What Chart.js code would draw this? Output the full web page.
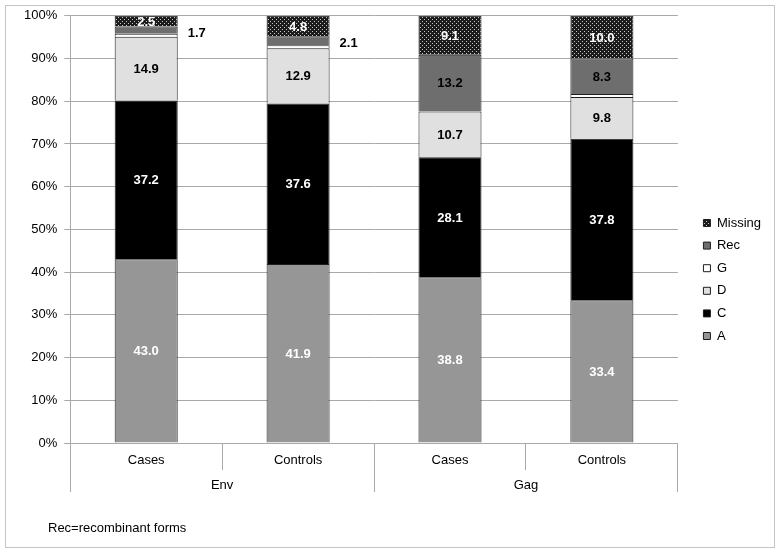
<!DOCTYPE html>
<html>
<head>
<meta charset="utf-8">
<script src="https://cdn.jsdelivr.net/npm/chart.js@4"></script>
<style>
  body { margin: 0; background: #fff; }
  #frame { position: absolute; left: 5px; top: 5px; width: 768px; height: 541px; border: 1px solid #c4c4c4; }
  #wrap { position: absolute; left: 6px; top: 1px; width: 768px; height: 547px; }
  #note { position: absolute; left: 48px; top: 520px; font: 13px "Liberation Sans", Arial, sans-serif; color: #000; }
</style>
</head>
<body>
<div id="frame"></div>
<div id="wrap"><canvas id="chart"></canvas></div>
<div id="note">Rec=recombinant forms</div>
<script>
// values (% of sequences per subtype)
const groups = ['Env', 'Gag'];
const categories = ['Cases', 'Controls', 'Cases', 'Controls'];
const subtypeA = [43.0, 41.9, 38.8, 33.4];
const subtypeC = [37.2, 37.6, 28.1, 37.8];
const subtypeD = [14.9, 12.9, 10.7, 9.8];
const subtypeG = [0.7, 0.7, 0.1, 0.7];
const recombinant = [1.7, 2.1, 13.2, 8.3];
const missing = [2.5, 4.8, 9.1, 10.0];

const FONT = '"Liberation Sans", Arial, sans-serif';
const gridColor = '#a9a9a9';

const ctx = document.getElementById('chart').getContext('2d');

// dark dotted fill used by Excel for "Missing"
function dotPattern() {
    const c = document.createElement('canvas');
    c.width = 4; c.height = 4;
    const g = c.getContext('2d');
    g.fillStyle = '#1c1c1c';
    g.fillRect(0, 0, 4, 4);
    g.fillStyle = '#c8c8c8';
    g.fillRect(0, 0, 1, 1);
    g.fillRect(2, 2, 1, 1);
    return ctx.createPattern(c, 'repeat');
}

// numbers written on the segments
const valueLabels = {
    id: 'valueLabels',
    afterDatasetsDraw(chart) {
        const c = chart.ctx;
        c.save();
        c.font = 'bold 13px ' + FONT;
        c.textBaseline = 'middle';
        chart.data.datasets.forEach((ds, i) => {
            if (!ds.labelColor) return;
            chart.getDatasetMeta(i).data.forEach((bar, j) => {
                const v = ds.data[j];
                const p = bar.getProps(['x', 'y', 'base', 'width'], true);
                const cy = (p.y + p.base) / 2;
                if (ds.outsideBelow && v < ds.outsideBelow) {
                    // thin slices get their value beside the bar
                    c.fillStyle = '#000';
                    c.textAlign = 'left';
                    c.fillText(v.toFixed(1), p.x + p.width / 2 + 10, cy + 3);
                } else {
                    c.fillStyle = ds.labelColor;
                    c.textAlign = 'center';
                    c.fillText(v.toFixed(1), p.x, cy + 1);
                }
            });
        });
        c.restore();
    }
};

// move the legend to where Excel put it
const legendShift = {
    id: 'legendShift',
    afterLayout(chart) {
        const lg = chart.legend;
        lg.left += 16; lg.right += 16;
        lg.top += 28; lg.bottom += 28;
    }
};

const seg = (label, data, color, labelColor, extra) => Object.assign({
    label: label,
    data: data,
    backgroundColor: color,
    borderColor: '#1e1e1e',
    borderWidth: 1,
    labelColor: labelColor
}, extra || {});

const chart = new Chart(ctx, {
    type: 'bar',
    data: {
        labels: categories,
        datasets: [
            seg('A', subtypeA, '#969696', '#fff'),
            seg('C', subtypeC, '#000000', '#fff'),
            seg('D', subtypeD, '#e0e0e0', '#000'),
            seg('G', subtypeG, '#ffffff', null),
            seg('Rec', recombinant, '#6e6e6e', '#000', { outsideBelow: 3 }),
            seg('Missing', missing, dotPattern(), '#fff')
        ]
    },
    options: {
        responsive: true,
        maintainAspectRatio: false,
        animation: false,
        datasets: {
            bar: { barPercentage: 0.415, categoryPercentage: 1 }
        },
        layout: {
            padding: { left: 11, right: 19, top: 2, bottom: 48 }
        },
        plugins: {
            legend: {
                position: 'right',
                reverse: true,
                labels: {
                    font: { family: FONT, size: 13 },
                    color: '#000',
                    boxWidth: 7,
                    boxHeight: 7,
                    padding: 9.6
                }
            },
            tooltip: { enabled: false }
        },
        scales: {
            x: {
                stacked: true,
                offset: true,
                grid: { drawOnChartArea: false, offset: true, tickLength: 27, color: gridColor },
                border: { color: gridColor },
                ticks: { padding: -17, color: '#000', font: { family: FONT, size: 13 }, maxRotation: 0 },
                afterFit: s => { s.height = 27; }
            },
            x2: {
                type: 'category',
                labels: groups,
                position: 'bottom',
                offset: true,
                grid: { drawOnChartArea: false, offset: true, tickLength: 22, color: gridColor },
                border: { display: false },
                ticks: { padding: -14, color: '#000', font: { family: FONT, size: 13 }, maxRotation: 0 },
                afterFit: s => { s.height = 30; }
            },
            y: {
                stacked: true,
                min: 0,
                max: 100,
                ticks: {
                    stepSize: 10,
                    padding: 7,
                    color: '#000',
                    font: { family: FONT, size: 13 },
                    callback: v => v + '%'
                },
                grid: { color: gridColor, tickLength: 6 },
                border: { color: gridColor }
            }
        }
    },
    plugins: [valueLabels, legendShift]
});
</script>
</body>
</html>
